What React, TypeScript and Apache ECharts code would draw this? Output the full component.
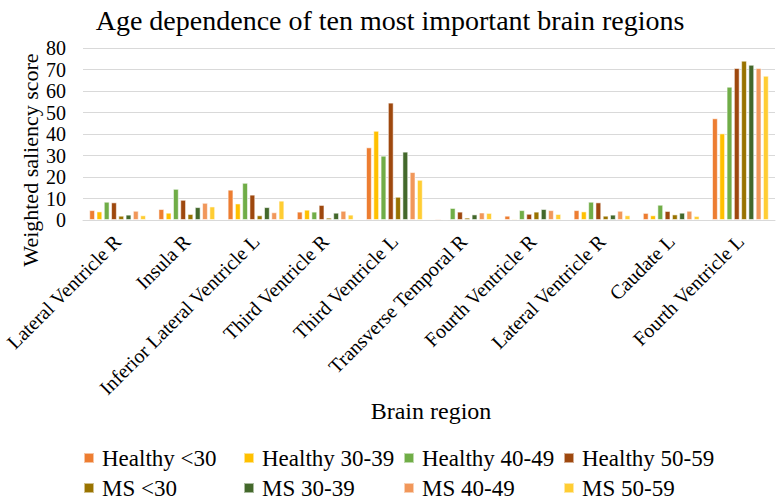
import React, { useEffect, useRef } from "react";
import * as echarts from "echarts";

const categories = [
  "Lateral Ventricle R",
  "Insula R",
  "Inferior Lateral Ventricle L",
  "Third Ventricle R",
  "Third Ventricle L",
  "Transverse Temporal R",
  "Fourth Ventricle R",
  "Lateral Ventricle R",
  "Caudate L",
  "Fourth Ventricle L",
];

const seriesNames = [
  "Healthy <30",
  "Healthy 30-39",
  "Healthy 40-49",
  "Healthy 50-59",
  "MS <30",
  "MS 30-39",
  "MS 40-49",
  "MS 50-59",
];

const healthyUnder30 = [4.6, 5.1, 14.1, 3.9, 33.8, 0.6, 2.0, 4.6, 3.3, 47.3];
const healthy30to39 = [4.0, 3.4, 7.7, 4.8, 41.5, 0.4, 0.6, 4.0, 2.2, 40.3];
const healthy40to49 = [8.5, 14.5, 17.3, 3.9, 29.9, 5.6, 4.6, 8.5, 7.1, 62.0];
const healthy50to59 = [8.2, 9.4, 11.8, 7.0, 54.6, 3.9, 2.9, 8.2, 4.2, 70.7];
const msUnder30 = [2.0, 2.8, 2.2, 1.1, 10.8, 1.1, 3.9, 2.0, 2.6, 74.1];
const ms30to39 = [2.5, 6.0, 6.0, 3.4, 31.8, 2.6, 5.1, 2.5, 3.4, 72.2];
const ms40to49 = [4.3, 8.0, 3.6, 4.3, 22.3, 3.5, 4.6, 4.3, 4.3, 70.7];
const ms50to59 = [2.2, 6.3, 9.0, 2.5, 18.7, 3.3, 2.8, 2.2, 1.9, 67.1];

const seriesValues = [
  healthyUnder30,
  healthy30to39,
  healthy40to49,
  healthy50to59,
  msUnder30,
  ms30to39,
  ms40to49,
  ms50to59,
];

const colors = [
  "#ED7D31",
  "#FFC000",
  "#70AD47",
  "#9E480E",
  "#997300",
  "#43682B",
  "#F1975A",
  "#FFCD33",
];

const FONT = "Liberation Serif";

export default function App() {
  const ref = useRef<HTMLDivElement>(null);

  useEffect(() => {
    document.body.style.margin = "0";
    if (!ref.current) return;
    const chart = echarts.init(ref.current, null, { renderer: "svg" });

    const legendCols = [83, 243, 403, 563];
    const legendRows = [446, 476];
    const legends = seriesNames.map((name, i) => ({
      data: [name],
      left: legendCols[i % 4],
      top: legendRows[Math.floor(i / 4)],
      itemWidth: 10,
      itemHeight: 10,
      icon: "rect",
      padding: 0,
      textStyle: {
        fontFamily: FONT,
        fontSize: 23,
        color: "#000",
        lineHeight: 24,
        padding: [0, 0, 0, 3],
      },
    }));

    chart.setOption({
      animation: false,
      color: colors,
      textStyle: { fontFamily: FONT },
      title: {
        text: "Age dependence of ten most important brain regions",
        left: "center",
        top: 1,
        textStyle: {
          fontFamily: FONT,
          fontSize: 28,
          fontWeight: "normal",
          color: "#000",
        },
      },
      legend: legends,
      grid: {
        left: 83,
        right: 5,
        top: 48,
        bottom: 283,
        containLabel: false,
      },
      xAxis: {
        type: "category",
        data: categories,
        axisLine: { show: true, lineStyle: { color: "#d9d9d9", width: 1 } },
        axisTick: { show: false },
        axisLabel: {
          interval: 0,
          rotate: 45,
          margin: 18,
          fontFamily: FONT,
          fontSize: 20,
          color: "#000",
        },
      },
      yAxis: {
        type: "value",
        min: 0,
        max: 80,
        interval: 10,
        axisLine: { show: false },
        axisTick: { show: false },
        splitLine: { lineStyle: { color: "#d9d9d9", width: 1 } },
        axisLabel: {
          margin: 17,
          fontFamily: FONT,
          fontSize: 20,
          color: "#000",
        },
      },
      graphic: [
        {
          type: "text",
          x: 30,
          y: 160,
          rotation: Math.PI / 2,
          style: {
            text: "Weighted saliency score",
            fontFamily: FONT,
            fontSize: 22,
            fill: "#000",
            textAlign: "center",
            textVerticalAlign: "middle",
          },
        },
        {
          type: "text",
          x: 431,
          y: 411,
          style: {
            text: "Brain region",
            fontFamily: FONT,
            fontSize: 24,
            fill: "#000",
            textAlign: "center",
            textVerticalAlign: "middle",
          },
        },
      ],
      series: seriesNames.map((name, i) => ({
        name,
        type: "bar",
        data: seriesValues[i],
        barGap: "25%",
        barCategoryGap: "18%",
        itemStyle: {
          color: colors[i],
          borderColor: "rgba(255,255,255,0.55)",
          borderWidth: 1,
        },
      })),
    });

    return () => chart.dispose();
  }, []);

  return (
    <div
      ref={ref}
      style={{ position: "absolute", left: 0, top: 0, width: 780, height: 503 }}
    />
  );
}
